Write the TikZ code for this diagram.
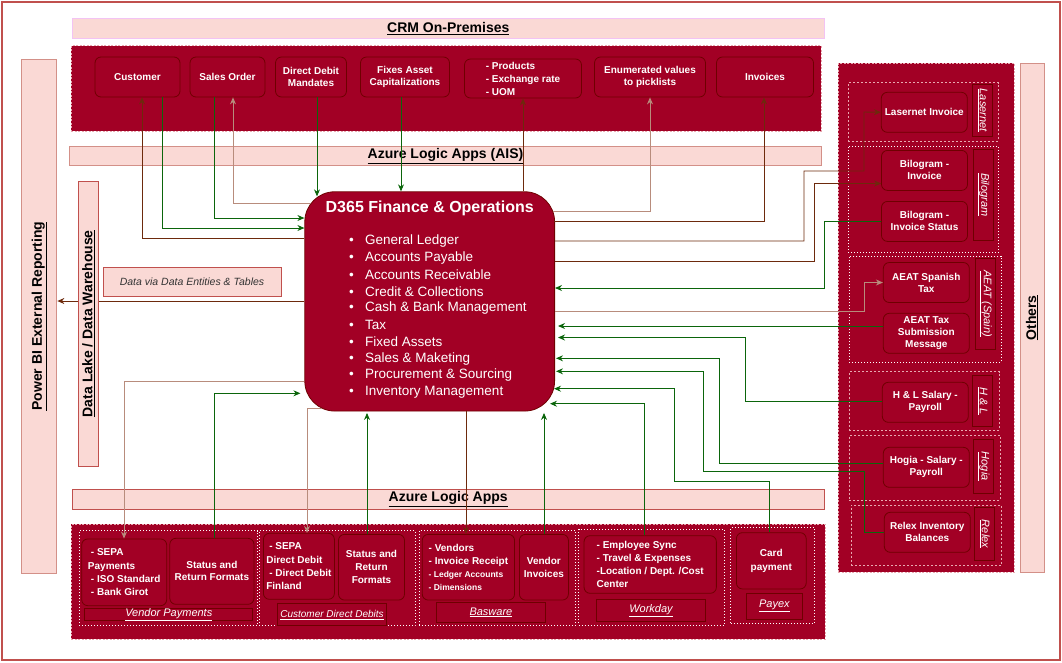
\documentclass[tikz,border=0pt]{standalone}
\usepackage{fontspec}
\setmainfont{Liberation Sans}
\usepackage{xcolor}
\usetikzlibrary{arrows.meta}

\definecolor{carmin}{HTML}{A20025}
\definecolor{bordeau}{HTML}{6F0000}
\definecolor{rose}{HTML}{FAD9D5}
\definecolor{roseb}{HTML}{C0504D}
\definecolor{rosec}{HTML}{D39088}
\definecolor{mauve}{HTML}{F3C3F3}
\definecolor{pointille}{HTML}{E8A8B0}
\definecolor{brun}{HTML}{6D2A0C}
\definecolor{brunc}{HTML}{B88C7C}
\definecolor{vert}{HTML}{0B650B}

\newcommand{\taille}[2]{\fontsize{#1}{#2}\selectfont}

\begin{document}
\begin{tikzpicture}[x=1pt, y=-1pt, >={Stealth[length=7pt,width=6pt]},
    wh/.style 2 args={minimum width=#1pt, minimum height=#2pt},
    bande/.style={draw=roseb, fill=rose, line width=1pt, inner sep=0pt,
        font=\taille{14}{16}\bfseries},
    cadre/.style={draw=pointille, fill=carmin, line width=1pt,
        dash pattern=on 2pt off 1.5pt, inner sep=0pt},
    groupe/.style={draw=white, line width=1pt, dash pattern=on 1pt off 2pt, inner sep=0pt},
    groupet/.style={draw=pointille, line width=0.6pt, dash pattern=on 2pt off 2pt, inner sep=0pt},
    boite/.style={draw=bordeau, fill=carmin, rounded corners=6pt, line width=0.8pt,
        text=white, font=\taille{10}{12}\bfseries, align=center, inner sep=1pt},
    etiq/.style={draw=bordeau, fill=carmin, line width=0.8pt, text=white,
        font=\taille{11}{12}\itshape, inner sep=0pt},
    lb/.style={draw=brun, line width=0.9pt, ->},
    lbc/.style={draw=brunc, line width=0.9pt, ->},
    lv/.style={draw=vert, line width=0.9pt, ->}]

\useasboundingbox (0,0) rectangle (1062,662);
\draw[roseb, line width=2pt] (2,2) rectangle (1060,660);

% Bandes
\node[bande, draw=mauve, wh={752}{20}] (crm) at (448.3,28.3) {\underline{CRM On-Premises}};
\node[bande, draw=rosec, wh={752.6}{19.7}] (ais) at (445.5,155.9) {\underline{Azure Logic Apps (AIS)}};
\node[bande, wh={751.7}{20}] (ala) at (448.2,499.3) {\underline{Azure Logic Apps}};
\node[bande, draw=rosec, rotate=90, wh={514.3}{35.1}] (pbi) at (39.3,316.2) {\underline{Power BI External Reporting}};
\node[bande, rotate=90, wh={284.7}{20}] (dl) at (88.5,323.7) {\underline{Data Lake / Data Warehouse}};
\node[bande, draw=rosec, rotate=90, wh={509}{24}] (autres) at (1032,317.8) {\underline{Others}};
\node[bande, font=\taille{10.5}{12}\itshape, text=black!80, wh={178}{29}] (dv) at (192,281.5) {Data via Data Entities \& Tables};

% Conteneurs
\node[cadre, wh={750}{85.3}] (crmc) at (446.4,88.4) {};
\node[cadre, wh={753.9}{115}] (basc) at (448.3,581.8) {};
\node[cadre, wh={176.3}{509}] (droitec) at (926.2,317.8) {};

% CRM On-Premises
\foreach \nom/\x/\w/\txt in {cust/137.5/85/Customer, so/227.5/75/Sales Order,
    ddm/311/71/{Direct Debit\\Mandates}, fac/405/89/{Fixes Asset\\Capitalizations},
    enum/650/111/{Enumerated values\\to picklists}, inv/765/97/Invoices}{
    \node[boite, wh={\w}{40}] (\nom) at (\x,77) {\txt};
}
\node[boite, align=left, font=\taille{10}{13}\bfseries, wh={117}{39}] (prod) at (523,78.5) {- Products\\- Exchange rate\\- UOM};

% D365
\node[boite, rounded corners=30pt, wh={249.8}{219.3}] (d365) at (429.7,301.4) {};
\node[text=white, font=\taille{16}{18}\bfseries] (titre) at (429.7,208.3) {D365 Finance \& Operations};
\foreach \i/\txt in {0/General Ledger, 1/Accounts Payable, 2/Accounts Receivable,
    3/Credit \& Collections, 4/Cash \& Bank Management, 5/Tax, 6/Fixed Assets,
    7/Sales \& Maketing, 8/Procurement \& Sourcing, 9/Inventory Management}{
    \node[anchor=west, text=white, font=\taille{13.5}{16}, inner sep=0pt] (mod\i)
        at (349,240.7+16.85*\i) {\makebox[16pt][l]{\textbullet}\txt};
}

% Autres systemes (droite)
\foreach \nom/\x/\y/\w/\h/\sty in {lasg/923.3/111.9/150/58.3/groupet, bilg/923.3/199.4/150/106.7/groupe,
    aeag/925.2/309.4/151.7/106.7/groupe, hlg/924.3/400.9/150/58.3/groupet,
    hogg/924.7/467.5/150.7/65/groupet, rlxg/926.4/535/150.7/60/groupet}{
    \node[\sty, wh={\w}{\h}] (\nom) at (\x,\y) {};
}
\foreach \nom/\x/\y/\txt in {lsr/924.3/112.3/Lasernet Invoice, bil/924.5/170.4/{Bilogram -\\Invoice},
    bis/924.5/221.4/{Bilogram -\\Invoice Status}, aes/926.3/282.5/{AEAT Spanish\\Tax},
    aets/926.3/333.3/{AEAT Tax\\Submission\\Message}, hl/925.3/402.3/{H \& L Salary -\\Payroll},
    hog/926.3/467.3/{Hogia - Salary -\\Payroll}, rlx/927.3/532.3/{Relex Inventory\\Balances}}{
    \node[boite, wh={86}{40}] (\nom) at (\x,\y) {\txt};
}
\foreach \nom/\x/\y/\l/\txt in {lsrl/982.7/110.2/51.7/Lasernet, bill/983.3/194.7/90.7/Bilogram,
    aeal/985.7/303.8/91/AEAT (Spain), hll/982.7/400.9/50.3/H \& L,
    hogl/983.5/466.3/54/Hogia, rlxl/984.7/534/53.4/Relex}{
    \node[etiq, rotate=-90, wh={\l}{20}] (\nom) at (\x,\y) {\underline{\txt}};
}

% Systemes du bas
\node[groupe, wh={178.4}{95}] (gvp) at (168.4,578.2) {};
\node[groupe, wh={156}{95}] (gcdd) at (337,578.2) {};
\node[groupe, wh={156.3}{95}] (gbw) at (497.2,578.2) {};
\node[groupe, wh={145.8}{95.7}] (gwd) at (651.7,577.2) {};
\node[groupe, wh={83.6}{95.6}] (gpx) at (772.7,575.5) {};

\node[boite, align=left, font=\taille{10}{13.3}\bfseries, wh={85}{66.7}] (sepa) at (124.2,572.3)
    {\hspace*{3pt}- SEPA\\Payments\\\hspace*{3pt}- ISO Standard\\\hspace*{3pt}- Bank Girot};
\node[boite, wh={84.2}{66}] (vps) at (211.9,571.3) {Status and\\Return Formats};
\node[etiq, wh={168}{12}] (vpl) at (168.8,614.3) {\underline{Vendor Payments}};

\node[boite, align=left, font=\taille{10}{13.3}\bfseries, wh={71}{66}] (sdd) at (298.9,566.3)
    {\hspace*{3pt}- SEPA\\Direct Debit\\\hspace*{3pt}- Direct Debit\\Finland};
\node[boite, font=\taille{10}{13}\bfseries, wh={66}{65.7}] (cdds) at (371.5,567.2) {Status and\\Return\\Formats};
\node[etiq, font=\taille{10}{12}\itshape, wh={109}{22}] (cdl) at (332,614.7) {\underline{Customer Direct Debits}};

\node[boite, align=left, font=\taille{10}{13}\bfseries, wh={92.3}{65.7}] (vend) at (468.4,567.2)
    {- Vendors\\- Invoice Receipt\\{\taille{8.5}{12}- Ledger Accounts}\\{\taille{8.5}{12}- Dimensions}};
\node[boite, font=\taille{10}{13}\bfseries, wh={49}{65.7}] (vinv) at (543.9,567.2) {Vendor\\Invoices};
\node[etiq, wh={108.6}{20}] (bwl) at (490.9,612.3) {\underline{Basware}};

\node[boite, align=left, font=\taille{10}{13}\bfseries, wh={132.3}{57.6}] (wd) at (650.2,564.5)
    {- Employee Sync\\- Travel \& Expenses\\-Location / Dept. /Cost\\Center};
\node[etiq, wh={108.6}{22}] (wdl) at (651,610.3) {\underline{Workday}};

\node[boite, font=\taille{10}{14}\bfseries, wh={69.8}{56.3}] (card) at (771.3,560.8) {Card\\payment};
\node[etiq, wh={56}{25.7}] (pxl) at (774.4,606.2) {\underline{Payex}};

% Liens CRM <-> D365
\draw[lb] (d365.west |- 0,238) -| (cust.south -| 142,0);
\draw[lv] (cust.south -| 162,0) |- (d365.west |- 0,228);
\draw[lv] (so.south -| 214,0) |- (d365.west |- 0,218);
\draw[lbc] ([xshift=6pt]d365.west |- 0,203) -| (so.south -| 233,0);
\draw[lv] (ddm.south -| 317,0) -- ([yshift=-5pt]d365.north -| 317,0);
\draw[lv] (fac.south -| 401,0) -- (d365.north -| 401,0);
\draw[lb] (d365.north -| 523,0) -- (prod.south -| 523,0);
\draw[lbc] ([xshift=-2pt]d365.east |- 0,211) -| (enum.south);
\draw[lb] ([xshift=-1pt]d365.east |- 0,221) -| (inv.south -| 764,0);

% Liens vers la droite
\draw[lb] (d365.east |- 0,241) -| (804,171) -| (864,112) -- (lsr.west);
\draw[lb] (d365.east |- 0,261) -| (814,183.5) -- (bil.west |- 0,183.5);
\draw[lv] (bis.west) -| (824,288) -- (d365.east |- 0,288);
\draw[lbc] (d365.east |- 0,311.7) -| (864,282.5) -- (aes.west);
\draw[lv] (aets.west |- 0,326) -- ([xshift=3pt]d365.east |- 0,326);
\draw[lv] (hl.west |- 0,401) -| (745,337.5) -- ([xshift=3pt]d365.east |- 0,337.5);
\draw[lv] (hog.west |- 0,463.3) -| (719,358.3) -- ([xshift=1pt]d365.east |- 0,358.3);
\draw[lv] (rlx.west) -| (864,471) -| (703,371.3) -- ([xshift=1pt]d365.east |- 0,371.3);

% Liens vers le bas
\draw[lv] (card.north -| 769,0) |- (674,481.7) |- ([xshift=-1pt]d365.east |- 0,388.7);
\draw[lv] (wd.north -| 644,0) |- ([xshift=-5pt]d365.east |- 0,403.7);
\foreach \nom/\x in {vinv/544, cdds/367}{
    \draw[lv] (\nom.north -| \x,0) -- ([yshift=-1.5pt]d365.south -| \x,0);
}
\draw[lb] (d365.south -| 466,0) -- (vend.north -| 466,0);
\draw[lbc] ([xshift=18pt]d365.south west |- 0,408.3) -| (sdd.north -| 307,0);
\draw[lv] (vps.north -| 214,0) |- ([xshift=-4pt]d365.west |- 0,393.3);
\draw[lbc] (d365.west |- 0,381.7) -| (sepa.north -| 124,0);

% Vers Power BI
\draw[brun, line width=0.9pt] (d365.west |- 0,301) -- (dl.south |- 0,301);
\draw[lb] (dl.north |- 0,301) -- (pbi.south |- 0,301);

\end{tikzpicture}
\end{document}
